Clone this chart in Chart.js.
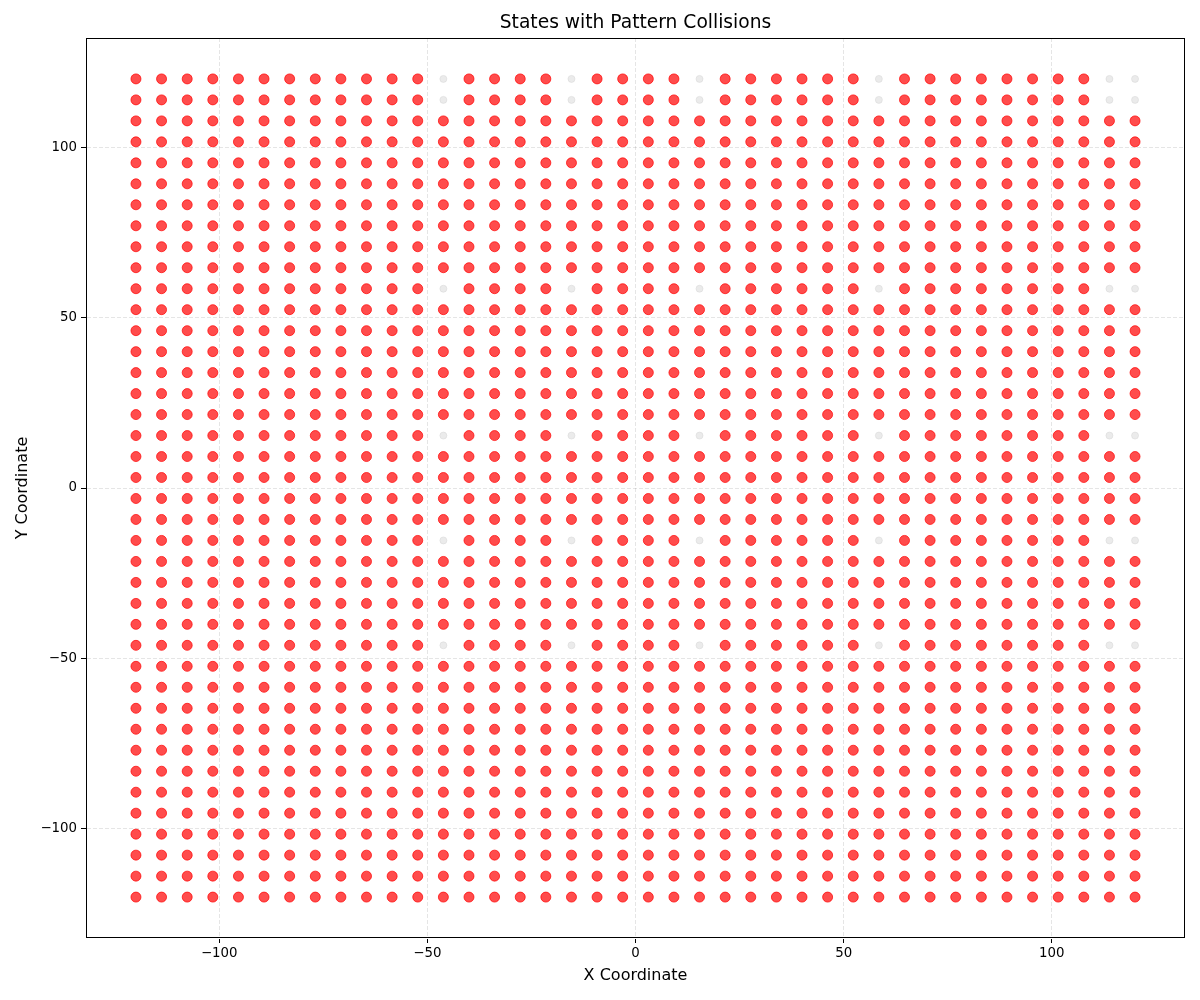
<!DOCTYPE html>
<html>
<head>
<meta charset="utf-8">
<script src="https://cdn.jsdelivr.net/npm/chart.js@4"></script>
<style>
html,body{margin:0;padding:0;background:#fff;}
#wrap{width:1200px;height:1000px;}
</style>
</head>
<body>
<div id="wrap"><canvas id="c" width="1200" height="1000"></canvas></div>
<script>
const chartTitle = 'States with Pattern Collisions';
const xLabel = 'X Coordinate';
const yLabel = 'Y Coordinate';
const xValues = [-120, -113.85, -107.69, -101.54, -95.38, -89.23, -83.08, -76.92, -70.77, -64.62,
  -58.46, -52.31, -46.15, -40, -33.85, -27.69, -21.54, -15.38, -9.23, -3.08,
  3.08, 9.23, 15.38, 21.54, 27.69, 33.85, 40, 46.15, 52.31, 58.46,
  64.62, 70.77, 76.92, 83.08, 89.23, 95.38, 101.54, 107.69, 113.85, 120];
const yValues = [-120, -113.85, -107.69, -101.54, -95.38, -89.23, -83.08, -76.92, -70.77, -64.62,
  -58.46, -52.31, -46.15, -40, -33.85, -27.69, -21.54, -15.38, -9.23, -3.08,
  3.08, 9.23, 15.38, 21.54, 27.69, 33.85, 40, 46.15, 52.31, 58.46,
  64.62, 70.77, 76.92, 83.08, 89.23, 95.38, 101.54, 107.69, 113.85, 120];
// states without collisions: x in freeX AND y in freeY
const freeX = [-46.15, -15.38, 15.38, 58.46, 113.85, 120];
const freeY = [-46.15, -15.38, 15.38, 58.46, 113.85, 120];
const xTicks = [-100, -50, 0, 50, 100];
const yTicks = [-100, -50, 0, 50, 100];

const collisionPts = [];
const freePts = [];
for (const x of xValues) {
  for (const y of yValues) {
    if (freeX.includes(x) && freeY.includes(y)) freePts.push({x, y});
    else collisionPts.push({x, y});
  }
}

const FONT = 'DejaVu Sans';
const fmt = v => String(v).replace('-', '\u2212');

const framePlugin = {
  id: 'frame',
  afterDraw(chart) {
    const {ctx, chartArea: a} = chart;
    ctx.save();
    ctx.strokeStyle = '#000';
    ctx.lineWidth = 1;
    ctx.setLineDash([]);
    ctx.strokeRect(Math.round(a.left) + 0.5, Math.round(a.top) + 0.5,
      Math.round(a.right - a.left) - 1, Math.round(a.bottom - a.top) - 1);
    ctx.fillStyle = '#000';
    ctx.font = '18.67px "' + FONT + '"';
    ctx.textAlign = 'center';
    ctx.textBaseline = 'middle';
    ctx.fillText(chartTitle, (a.left + a.right) / 2, 23);
    ctx.restore();
  }
};

const gridOpts = {
  color: 'rgba(0,0,0,0.1)',
  tickColor: '#000',
  tickLength: 5,
  tickBorderDash: [],
  tickWidth: 1,
  lineWidth: 1
};
const borderOpts = {display: true, color: 'rgba(0,0,0,0)', width: 1, dash: [4, 2]};

new Chart(document.getElementById('c'), {
  type: 'scatter',
  data: {
    datasets: [
      {
        label: 'No collision',
        data: freePts,
        backgroundColor: 'rgba(211,211,211,0.45)',
        borderColor: 'rgba(211,211,211,0.45)',
        borderWidth: 1,
        pointRadius: 3.5,
        pointHoverRadius: 3.5
      },
      {
        label: 'Collision',
        data: collisionPts,
        backgroundColor: 'rgba(255,0,0,0.7)',
        borderColor: 'rgba(255,0,0,0.7)',
        borderWidth: 1,
        pointRadius: 5,
        pointHoverRadius: 5
      }
    ]
  },
  options: {
    responsive: false,
    animation: false,
    devicePixelRatio: 1,
    layout: {padding: {top: 38, right: 15, left: 0, bottom: 0}},
    plugins: {legend: {display: false}, tooltip: {enabled: false}, title: {display: false}},
    scales: {
      x: {
        type: 'linear',
        min: -132, max: 132,
        afterFit(s) { s.height = 62; },
        afterBuildTicks(s) { s.ticks = xTicks.map(v => ({value: v})); },
        border: borderOpts,
        grid: gridOpts,
        ticks: {color: '#000', font: {family: FONT, size: 13.33}, padding: 3, maxRotation: 0, callback: fmt},
        title: {display: true, text: xLabel, color: '#000', font: {family: FONT, size: 16}, padding: {top: 0, bottom: 15}}
      },
      y: {
        type: 'linear',
        min: -132, max: 132,
        afterFit(s) { s.width = 86; },
        afterBuildTicks(s) { s.ticks = yTicks.map(v => ({value: v})); },
        border: borderOpts,
        grid: gridOpts,
        ticks: {color: '#000', font: {family: FONT, size: 13.33}, padding: 4, callback: fmt},
        title: {display: true, text: yLabel, color: '#000', font: {family: FONT, size: 16}, padding: {top: 13, bottom: 0}}
      }
    }
  },
  plugins: [framePlugin]
});
</script>
</body>
</html>
